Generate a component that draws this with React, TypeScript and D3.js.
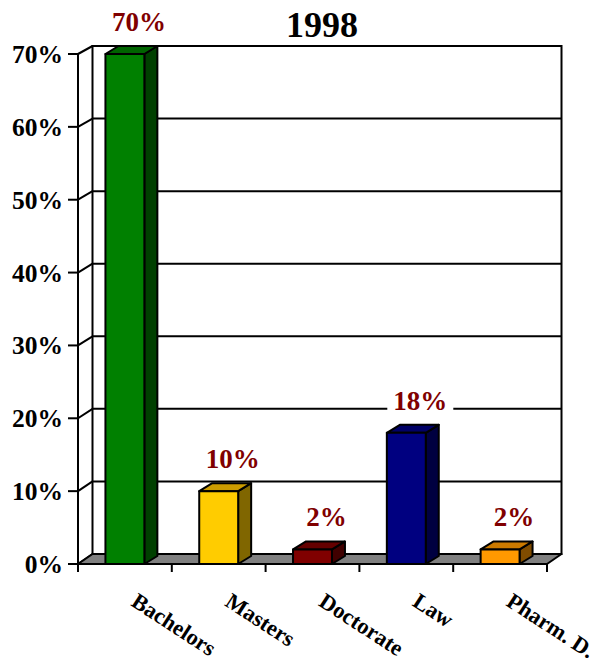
import React from "react";
import * as d3 from "d3";

const categories = ["Bachelors", "Masters", "Doctorate", "Law", "Pharm. D."];
const values = [70, 10, 2, 18, 2];
const yTicks = [0, 10, 20, 30, 40, 50, 60, 70];
const title = "1998";
const frontColors = ["#008000", "#FFCC00", "#800000", "#000080", "#FF9900"];
const topColors = ["#006400", "#CC9C00", "#640000", "#000066", "#CC7A00"];
const sideColors = ["#004000", "#806600", "#400000", "#000040", "#804C00"];

const W = 604;
const H = 662;
const FONT = "'Liberation Serif', 'Times New Roman', serif";

export default function App() {
  const x = d3.scaleBand<string>().domain(categories).range([78, 547]);
  const yFront = d3.scaleLinear().domain([0, 70]).range([564, 54]);
  const yBack = d3.scaleLinear().domain([0, 70]).range([554, 46]);
  const wallDx = 14.5;
  const barDx = 13;
  const barDy = 8;
  const bw = x.bandwidth() * 0.415;
  const left = x.range()[0];
  const right = x.range()[1];
  const sw = 2;

  return (
    <svg
      width={W}
      height={H}
      style={{ position: "absolute", left: 0, top: 0, background: "#fff" }}
      fontFamily={FONT}
      fontWeight="bold"
    >
      {/* back wall */}
      <rect
        x={left + wallDx}
        y={yBack(70)}
        width={right - left}
        height={yBack(0) - yBack(70)}
        fill="#fff"
        stroke="#000"
        strokeWidth={sw}
      />
      {yTicks.map((t) => (
        <g key={t}>
          <line x1={left + wallDx} x2={right + wallDx} y1={yBack(t)} y2={yBack(t)} stroke="#000" strokeWidth={sw} />
          <line x1={left} x2={left + wallDx} y1={yFront(t)} y2={yBack(t)} stroke="#000" strokeWidth={sw} />
          <line x1={left - 10} x2={left} y1={yFront(t)} y2={yFront(t)} stroke="#000" strokeWidth={sw} />
          <text x={63} y={yFront(t) + 9} textAnchor="end" fontSize={25.5} fill="#000">
            {t + "%"}
          </text>
        </g>
      ))}
      {/* left front axis */}
      <line x1={left} x2={left} y1={yFront(70)} y2={yFront(0) + 8} stroke="#000" strokeWidth={sw} />
      {/* floor */}
      <path
        d={`M${left},${yFront(0)}L${right},${yFront(0)}L${right + wallDx},${yBack(0)}L${left + wallDx},${yBack(0)}Z`}
        fill="#808080"
        stroke="#000"
        strokeWidth={sw}
        strokeLinejoin="round"
      />
      {/* bottom ticks */}
      {[...categories.map((c) => x(c) as number), right].map((p, i) => (
        <line key={i} x1={p} x2={p} y1={yFront(0)} y2={yFront(0) + 8} stroke="#000" strokeWidth={sw} />
      ))}
      {/* bars */}
      {categories.map((c, i) => {
        const cx = (x(c) as number) + x.bandwidth() / 2;
        const x0 = cx - bw / 2;
        const x1 = cx + bw / 2;
        const yt = yFront(values[i]);
        const yb = yFront(0);
        return (
          <g key={c} stroke="#000" strokeWidth={sw} strokeLinejoin="round">
            <path d={`M${x1},${yb}L${x1 + barDx},${yb - barDy}L${x1 + barDx},${yt - barDy}L${x1},${yt}Z`} fill={sideColors[i]} />
            <path d={`M${x0},${yt}L${x1},${yt}L${x1 + barDx},${yt - barDy}L${x0 + barDx},${yt - barDy}Z`} fill={topColors[i]} />
            <rect x={x0} y={yt} width={bw} height={yb - yt} fill={frontColors[i]} />
          </g>
        );
      })}
      {/* data labels */}
      {categories.map((c, i) => {
        const cx = (x(c) as number) + x.bandwidth() / 2 + 14;
        const by = yFront(values[i]) - 23;
        return (
          <g key={c + "lbl"}>
            <rect x={cx - 33} y={by - 21} width={66} height={26} fill="#fff" />
            <text x={cx} y={by} textAnchor="middle" fontSize={27} fill="#800000">
              {values[i] + "%"}
            </text>
          </g>
        );
      })}
      {/* category labels */}
      {categories.map((c) => {
        const sx = (x(c) as number) + x.bandwidth() / 2 + 5;
        const sy = 605;
        return (
          <text key={c + "cat"} transform={`translate(${sx},${sy}) rotate(33)`} fontSize={22.5} fill="#000">
            {c}
          </text>
        );
      })}
      {/* title */}
      <text x={322} y={37} textAnchor="middle" fontSize={36} fill="#000">
        {title}
      </text>
    </svg>
  );
}
